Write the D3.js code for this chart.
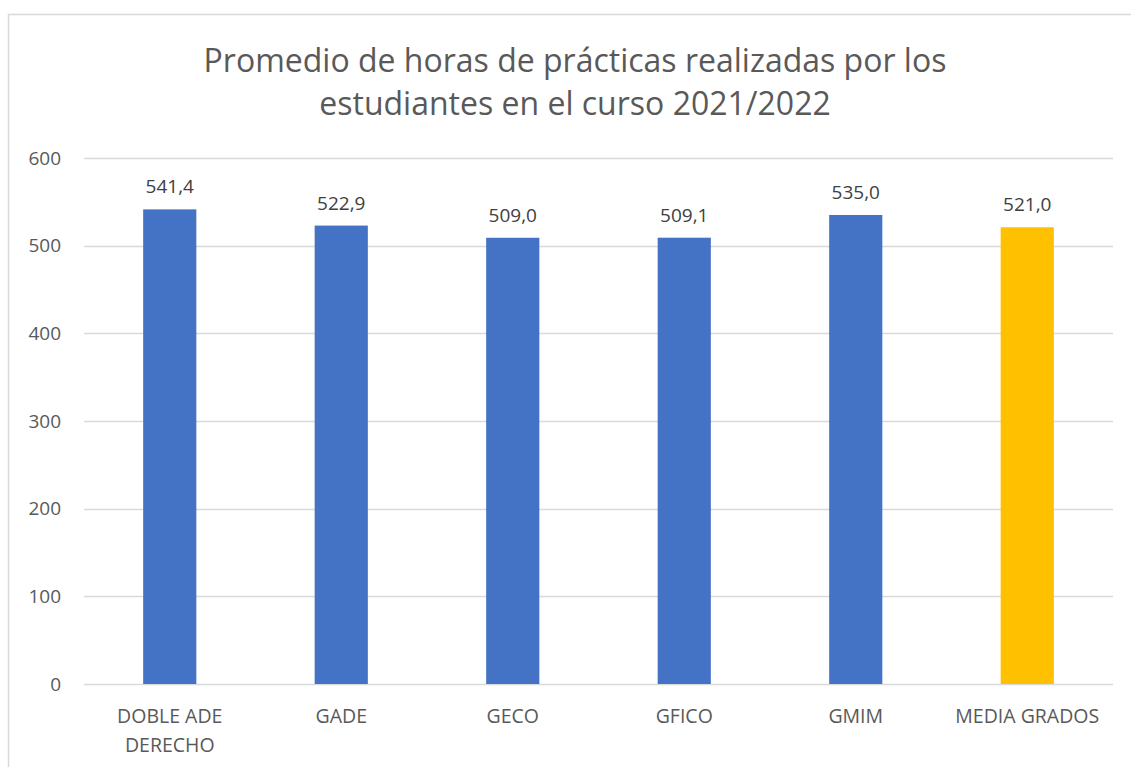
<!DOCTYPE html>
<html>
<head>
<meta charset="utf-8">
<script src="https://cdn.jsdelivr.net/npm/d3@7"></script>
<style>
  body { margin: 0; background: #fff; }
  text { font-family: "Open Sans", "Liberation Sans", sans-serif; fill: #595959; }
</style>
</head>
<body>
<svg width="1131" height="767"></svg>
<script>
var categories = [['DOBLE ADE', 'DERECHO'], ['GADE'], ['GECO'], ['GFICO'], ['GMIM'], ['MEDIA GRADOS']];
var values = [541.4, 522.9, 509.0, 509.1, 535.0, 521.0];
var barColors = ['#4472C4', '#4472C4', '#4472C4', '#4472C4', '#4472C4', '#FFC000'];
var yTicks = [0, 100, 200, 300, 400, 500, 600];
var titleLines = ['Promedio de horas de prácticas realizadas por los', 'estudiantes en el curso 2021/2022'];

var svg = d3.select('svg');

// chart frame
svg.append('rect')
  .attr('x', 8.5).attr('y', 14.5)
  .attr('width', 1140).attr('height', 780)
  .attr('fill', 'none')
  .attr('stroke', '#d9d9d9')
  .attr('stroke-width', 1.5);

var plotLeft = 84, plotRight = 1113, plotTop = 158, plotBottom = 684;

var x = d3.scaleBand()
  .domain(d3.range(categories.length))
  .range([plotLeft, plotRight])
  .padding(0);

var y = d3.scaleLinear().domain([0, 600]).range([plotBottom, plotTop]);

svg.append('g')
  .selectAll('line')
  .data(yTicks)
  .enter()
  .append('line')
  .attr('x1', plotLeft).attr('x2', plotRight)
  .attr('y1', function (d) { return Math.round(y(d)) + 0.5; })
  .attr('y2', function (d) { return Math.round(y(d)) + 0.5; })
  .attr('stroke', '#d9d9d9')
  .attr('stroke-width', 1.5);

svg.append('g')
  .selectAll('text')
  .data(yTicks)
  .enter()
  .append('text')
  .attr('x', 61)
  .attr('y', function (d) { return y(d); })
  .attr('dy', '0.35em')
  .attr('text-anchor', 'end')
  .style('font-size', '19px')
  .text(function (d) { return d; });

var barW = x.bandwidth() * 0.31;

svg.append('g')
  .selectAll('rect')
  .data(values)
  .enter()
  .append('rect')
  .attr('x', function (d, i) { return x(i) + x.bandwidth() / 2 - barW / 2; })
  .attr('y', function (d) { return y(d); })
  .attr('width', barW)
  .attr('height', function (d) { return plotBottom - y(d); })
  .attr('fill', function (d, i) { return barColors[i]; });

svg.append('g')
  .selectAll('text')
  .data(values)
  .enter()
  .append('text')
  .attr('x', function (d, i) { return x(i) + x.bandwidth() / 2; })
  .attr('y', function (d) { return y(d) - 16; })
  .attr('text-anchor', 'middle')
  .style('font-size', '19px')
  .style('fill', '#404040')
  .text(function (d) { return d.toFixed(1).replace('.', ','); });

var catLabels = svg.append('g')
  .selectAll('text')
  .data(categories)
  .enter()
  .append('text')
  .attr('text-anchor', 'middle')
  .style('font-size', '19.5px');

catLabels.selectAll('tspan')
  .data(function (d, i) { return d.map(function (s) { return { s: s, i: i }; }); })
  .enter()
  .append('tspan')
  .attr('x', function (d) { return x(d.i) + x.bandwidth() / 2; })
  .attr('y', function (d, j) { return 723 + j * 29; })
  .text(function (d) { return d.s; });

svg.append('g')
  .selectAll('text')
  .data(titleLines)
  .enter()
  .append('text')
  .attr('x', 575)
  .attr('y', function (d, i) { return 72 + i * 43; })
  .attr('text-anchor', 'middle')
  .style('font-size', '32px')
  .text(function (d) { return d; });
</script>
</body>
</html>
